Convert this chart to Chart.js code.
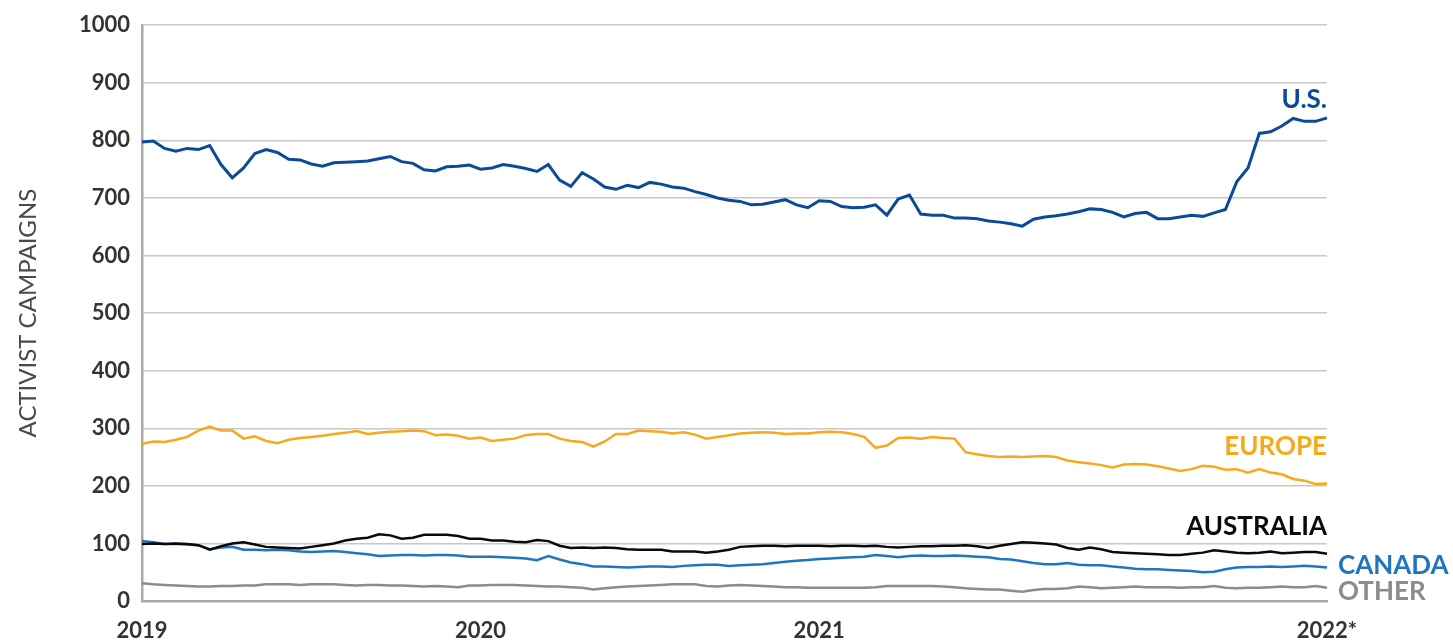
<!DOCTYPE html>
<html lang="en">
<head>
    <meta charset="UTF-8">
    <title>Activist Campaigns by Region</title>
    <script src="https://cdn.jsdelivr.net/npm/chart.js"></script>
    <style>
        html, body { margin: 0; padding: 0; background: #fff; }
        .chart-container { width: 1453px; height: 641px; }
    </style>
</head>
<body>
    <div class="chart-container">
        <canvas id="lineChart"></canvas>
    </div>

    <script>
        // Year tick labels, keyed by sample index (30 samples per year)
        const yearTicks = { 0: '2019', 30: '2020', 60: '2021', 105: '2022*' };

        const usValues = [
            797, 799, 786, 781, 786, 784, 791, 758, 735, 752, 777, 784, 779, 767, 766, 759, 755, 761, 762, 763, 764, 768, 772, 763, 760, 749, 747,
            754, 755, 757, 750, 752, 758, 755, 751, 746, 758, 731, 720, 744, 733, 719, 715, 722, 718, 727, 724, 719, 717, 711, 706, 700, 696, 694,
            688, 689, 693, 697, 688, 683, 695, 694, 685, 683, 684, 688, 670, 698, 705, 672, 670, 670, 665, 665, 664, 660, 658, 655, 651, 663,
            667, 669, 672, 676, 681, 680, 675, 667, 673, 675, 664, 664, 667, 670, 668, 674, 680, 728, 752, 812, 815, 825, 838, 833, 833, 839
        ];
        const europeValues = [
            273, 277, 276, 280, 285, 296, 303, 296, 296, 282, 286, 278, 274, 280, 283, 285, 287, 290, 292, 295, 290, 292, 294, 295, 296, 295, 288,
            289, 287, 282, 284, 278, 280, 282, 288, 290, 290, 282, 278, 276, 268, 277, 290, 290, 296, 295, 294, 291, 293, 289, 282, 285, 288, 291,
            292, 293, 292, 290, 291, 291, 293, 294, 293, 290, 285, 266, 270, 283, 284, 282, 285, 283, 282, 258, 255, 252, 250, 251, 250, 251,
            252, 250, 244, 241, 239, 236, 232, 237, 238, 237, 234, 230, 226, 229, 235, 233, 228, 229, 223, 229, 223, 220, 212, 209, 203, 204
        ];
        const australiaValues = [
            99, 100, 99, 100, 99, 97, 89, 95, 100, 102, 98, 94, 93, 92, 91, 94, 97, 100, 105, 108, 110, 116, 114, 108, 110, 115, 115,
            115, 113, 108, 108, 105, 105, 103, 102, 106, 104, 96, 92, 93, 92, 93, 92, 90, 89, 89, 89, 86, 86, 86, 84, 86, 89, 94,
            95, 96, 96, 95, 96, 96, 96, 95, 96, 96, 95, 96, 94, 93, 94, 95, 95, 96, 96, 97, 95, 92, 96, 99, 102, 101,
            100, 98, 92, 89, 93, 90, 85, 84, 83, 82, 81, 80, 80, 82, 84, 88, 86, 84, 83, 84, 86, 83, 84, 85, 85, 82
        ];
        const canadaValues = [
            104, 102, 99, 99, 98, 97, 90, 93, 94, 89, 89, 88, 89, 88, 86, 85, 86, 87, 85, 83, 81, 78, 79, 80, 80, 79, 80,
            80, 79, 77, 77, 77, 76, 75, 74, 71, 78, 72, 67, 64, 60, 60, 59, 58, 59, 60, 60, 59, 61, 62, 63, 63, 61, 62,
            63, 64, 66, 68, 70, 71, 73, 74, 75, 76, 77, 80, 78, 76, 78, 79, 78, 78, 79, 78, 77, 76, 73, 72, 69, 66,
            64, 64, 66, 63, 62, 62, 60, 58, 56, 55, 55, 54, 53, 52, 50, 51, 55, 58, 59, 59, 60, 59, 60, 61, 60, 58
        ];
        const otherValues = [
            31, 29, 28, 27, 26, 25, 25, 26, 26, 27, 27, 29, 29, 29, 28, 29, 29, 29, 28, 27, 28, 28, 27, 27, 26, 25, 26,
            25, 24, 27, 27, 28, 28, 28, 27, 26, 25, 25, 24, 23, 20, 22, 24, 25, 26, 27, 28, 29, 29, 29, 26, 25, 27, 28,
            27, 26, 25, 24, 24, 23, 23, 23, 23, 23, 23, 24, 26, 26, 26, 26, 26, 25, 24, 22, 21, 20, 20, 18, 16, 19,
            21, 21, 22, 25, 24, 22, 23, 24, 25, 24, 24, 24, 23, 24, 24, 26, 23, 22, 23, 23, 24, 25, 24, 24, 26, 23
        ];

        const colors = {
            us: '#0b4a99',
            europe: '#f6a91b',
            australia: '#0a0a0a',
            canada: '#1f75c1',
            other: '#8c8c8c'
        };

        // Series names drawn at the right end of the plot
        const endLabels = [
            { text: 'U.S.', color: colors.us, at: 870, inside: true },
            { text: 'EUROPE', color: colors.europe, at: 269, inside: true },
            { text: 'AUSTRALIA', color: colors.australia, at: 130, inside: true },
            { text: 'CANADA', color: colors.canada, at: 61, inside: false },
            { text: 'OTHER', color: colors.other, at: 17, inside: false }
        ];

        const endLabelPlugin = {
            id: 'endLabels',
            afterDatasetsDraw(chart) {
                const { ctx, chartArea, scales } = chart;
                ctx.save();
                ctx.font = 'bold 26px Lato';
                ctx.textBaseline = 'middle';
                endLabels.forEach(l => {
                    const y = scales.y.getPixelForValue(l.at);
                    ctx.fillStyle = l.color;
                    if (l.inside) {
                        ctx.textAlign = 'right';
                        ctx.fillText(l.text, chartArea.right, y);
                    } else {
                        ctx.textAlign = 'left';
                        ctx.fillText(l.text, chartArea.right + 11, y);
                    }
                });
                ctx.restore();
            }
        };

        function series(label, data, color, width) {
            return {
                label: label,
                data: data,
                borderColor: color,
                backgroundColor: color,
                borderWidth: width,
                pointRadius: 0,
                tension: 0,
                fill: false
            };
        }

        const labels = usValues.map((_, i) => i);

        const ctxLine = document.getElementById('lineChart').getContext('2d');
        const lineChart = new Chart(ctxLine, {
            type: 'line',
            data: {
                labels: labels,
                datasets: [
                    series('U.S.', usValues, colors.us, 3),
                    series('Europe', europeValues, colors.europe, 2.5),
                    series('Australia', australiaValues, colors.australia, 2.5),
                    series('Canada', canadaValues, colors.canada, 2.5),
                    series('Other', otherValues, colors.other, 2.5)
                ]
            },
            options: {
                responsive: true,
                maintainAspectRatio: false,
                animation: false,
                layout: {
                    padding: { top: 25, right: 126, left: 0, bottom: 0 }
                },
                plugins: {
                    legend: { display: false },
                    tooltip: { enabled: false }
                },
                scales: {
                    x: {
                        type: 'category',
                        offset: false,
                        grid: { display: false, drawTicks: false },
                        border: { display: true, color: '#a9a9a9', width: 2.5 },
                        ticks: {
                            autoSkip: false,
                            maxRotation: 0,
                            minRotation: 0,
                            padding: 17,
                            color: '#333',
                            font: { family: 'Lato', size: 22, weight: 'bold' },
                            callback: (value, index) => yearTicks[index] || ''
                        },
                        afterFit: scale => { scale.height = 40; }
                    },
                    y: {
                        min: 0,
                        max: 1000,
                        grid: { color: '#c8c8c8', lineWidth: 1.5, drawTicks: false },
                        border: { display: true, color: '#a9a9a9', width: 2.5 },
                        ticks: {
                            stepSize: 100,
                            padding: 12,
                            color: '#333',
                            font: { family: 'Lato', size: 22, weight: 'bold' },
                            callback: value => String(value)
                        },
                        title: {
                            display: true,
                            text: 'ACTIVIST CAMPAIGNS',
                            color: '#4a4a4a',
                            padding: { top: 14, bottom: 0 },
                            font: { family: 'Lato', size: 24, weight: 'normal' }
                        },
                        afterFit: scale => { scale.width = 142; }
                    }
                }
            },
            plugins: [endLabelPlugin]
        });
    </script>
</body>
</html>
